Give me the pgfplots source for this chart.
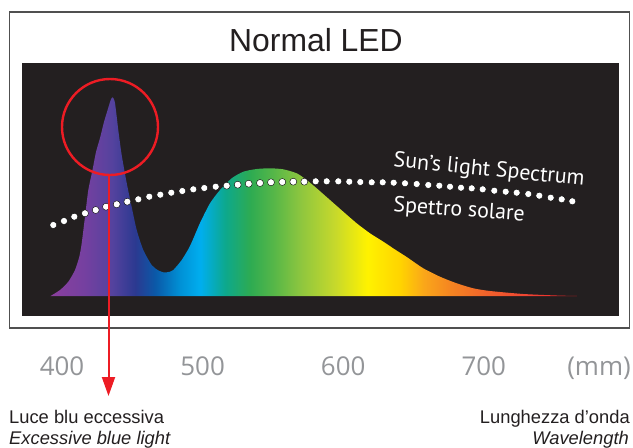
\documentclass[border=0pt]{standalone}
\usepackage{pgfplots}
\pgfplotsset{compat=1.18}
\usepackage{pgfplotstable}
\usepackage{fontspec}
\setmainfont{Liberation Sans}
\newfontfamily\ticksf{Open Sans}
\newfontfamily\annsf{PT Sans}
\usetikzlibrary{arrows.meta}
\definecolor{bgblack}{RGB}{35,31,32}
\definecolor{tickgray}{RGB}{147,149,152}
\definecolor{ledred}{RGB}{237,28,36}
\definecolor{boxgray}{RGB}{80,80,80}
\pgfdeclarehorizontalshading{spectrum}{100bp}{
 rgb(0bp)=(0.545,0.247,0.620);
 rgb(25bp)=(0.545,0.247,0.620);
 rgb(28.32bp)=(0.455,0.251,0.627);
 rgb(30.88bp)=(0.33,0.26,0.62);
 rgb(33.06bp)=(0.169,0.224,0.565);
 rgb(34.96bp)=(0.04,0.35,0.66);
 rgb(37.33bp)=(0,0.57,0.84);
 rgb(39.23bp)=(0,0.682,0.937);
 rgb(41.6bp)=(0.05,0.66,0.55);
 rgb(43.98bp)=(0.18,0.67,0.32);
 rgb(46.35bp)=(0.35,0.72,0.28);
 rgb(48.72bp)=(0.553,0.776,0.247);
 rgb(52.04bp)=(0.78,0.85,0.17);
 rgb(55.08bp)=(1,0.95,0);
 rgb(58.21bp)=(1,0.83,0);
 rgb(60.5bp)=(0.98,0.65,0.1);
 rgb(63.0bp)=(0.96,0.52,0.13);
 rgb(66.5bp)=(0.945,0.38,0.17);
 rgb(70.5bp)=(0.94,0.26,0.2);
 rgb(75bp)=(0.93,0.11,0.14);
 rgb(100bp)=(0.93,0.11,0.14)}

% LED spectrum: wavelength (nm), relative intensity
\pgfplotstableread{
nm y
391.82 0
398.58 6
404.48 14.3
409.25 26
412.30 39.3
414.01 52.7
416.36 79.3
418.71 106
421.69 126
424.18 144
427.03 158
429.87 174
432.00 184
434.64 196
436.06 198.7
437.70 193
440.04 166
442.46 141
446.02 113
449.57 89
453.13 66
457.82 46
463.80 31
468.28 25.8
472.55 23.5
476.81 24.3
479.16 26
485.13 36
491.04 50
498.15 73
505.26 92.7
512.38 106
520.70 117.7
528.95 124.3
538.48 127
547.94 127.7
557.40 126.7
566.93 122.7
574.05 116
581.16 107.7
590.61 96
600.07 84.3
609.60 72.7
619.07 62.7
628.53 54.3
636.85 46.5
645.17 39
656.98 27.7
668.85 19.3
680.73 12.7
692.54 7.7
704.41 5
728.10 2
751.85 0.5
766.29 0
}\ledspec

% Sun spectrum (dotted)
\pgfplotstableread{
nm y
393.81 71
401.42 75
408.75 79.3
416.36 82.7
423.97 86
431.29 89.3
438.91 91.7
446.45 94.3
454.27 96.7
462.09 99.3
469.92 101.3
477.74 103.3
485.57 105
493.39 106.7
501.21 108
509.32 109.3
517.14 110.3
524.97 111.3
532.79 112.3
540.83 113
548.65 113.7
556.69 114
564.51 114.3
572.34 114.3
580.45 114.7
588.27 114.7
596.52 114.7
604.34 114.3
612.17 114
620.28 113.7
628.10 113.7
635.92 113.3
643.96 112.7
652.28 112
660.53 111
668.36 110.3
675.97 109.3
683.79 108.3
691.40 107.7
699.22 106.7
707.47 105.3
715.58 104.3
723.40 103.3
731.66 102
739.48 100.3
747.59 98.3
755.41 96.7
762.95 94.7
}\sunspec

\begin{document}
\begin{tikzpicture}
\path[use as bounding box] (0bp,0bp) rectangle (633bp,-448bp);
\draw[boxgray, line width=1.6bp] (9.5bp,-12bp) rectangle (629.5bp,-327.7bp);
\node[anchor=base, inner sep=0pt, text=bgblack, font=\fontsize{32}{36}\selectfont] at (316bp,-51.7bp) {Normal LED};
\begin{axis}[
  at={(22bp,-315.7bp)}, anchor=south west,
  scale only axis, width=597bp, height=253bp,
  xmin=371.55, xmax=796.17, ymin=-19.7, ymax=233.3,
  axis line style={draw=none},
  axis background/.style={fill=bgblack},
  ytick=\empty,
  xtick={400,500,600,700,782},
  xticklabels={400,500,600,700,(mm)},
  major tick length=0pt,
  xticklabel style={font=\ticksf\fontsize{26}{30}\selectfont, text=tickgray, anchor=base, inner sep=0pt, yshift=-59.3bp},
]
\addplot[draw=none, shading=spectrum, shading angle=0, smooth, tension=0.4] table[x=nm, y=y] {\ledspec} \closedcycle;
\addplot[only marks, mark=*, mark size=3.5bp, mark options={draw=none, fill=white}] table[x=nm, y=y] {\sunspec};
\draw[ledred, line width=2.4bp] (axis cs:434.14,169) circle[radius=48bp];
\end{axis}
\draw[ledred, line width=2bp, -{Triangle[width=13bp,length=19bp]}] (108.5bp,-175bp) -- (108.5bp,-396bp);
\node[anchor=base west, inner sep=0pt, rotate=-5.6, text=white, font=\annsf\fontsize{22}{26}\selectfont] at (393bp,-166.7bp) {Sun’s light Spectrum};
\node[anchor=base west, inner sep=0pt, rotate=-4, text=white, font=\annsf\fontsize{22}{26}\selectfont] at (393bp,-211.7bp) {Spettro solare};
\node[anchor=base west, inner sep=0pt, text=bgblack, font=\fontsize{18.4}{21}\selectfont] at (9bp,-423.3bp) {Luce blu eccessiva};
\node[anchor=base west, inner sep=0pt, text=bgblack, font=\itshape\fontsize{18.4}{21}\selectfont] at (9bp,-444.5bp) {Excessive blue light};
\node[anchor=base east, inner sep=0pt, text=bgblack, font=\fontsize{18.4}{21}\selectfont] at (630bp,-423.3bp) {Lunghezza d’onda};
\node[anchor=base east, inner sep=0pt, text=bgblack, font=\itshape\fontsize{18.4}{21}\selectfont] at (629bp,-444.5bp) {Wavelength};
\end{tikzpicture}
\end{document}
